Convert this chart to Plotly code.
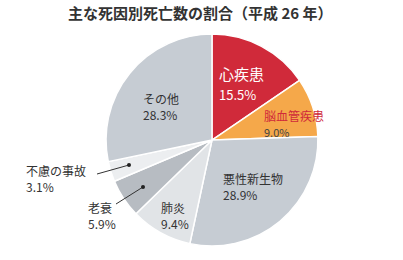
import plotly.graph_objects as go

categories = ["心疾患", "脳血管疾患", "悪性新生物", "肺炎", "老衰", "不慮の事故", "その他"]
values = [15.5, 9.0, 28.9, 9.4, 5.9, 3.1, 28.3]
colors = ["#d02a3a", "#f5a84a", "#c6ccd3", "#e1e4e7", "#b7bcc2", "#eceef0", "#c6ccd3"]
title_text = "主な死因別死亡数の割合（平成 26 年）"

FONT = "Noto Sans CJK JP"

fig = go.Figure()
fig.add_trace(go.Pie(
    labels=categories, values=values, sort=False, direction="clockwise", rotation=0,
    marker=dict(colors=colors, line=dict(color="white", width=1.5)),
    textinfo="none", hoverinfo="label+percent", showlegend=False,
    domain=dict(x=[0.263, 0.789], y=[0.054, 0.869]),
))

W, H = 403, 260
def px(x, y):
    return x / W, 1 - y / H

# label style: left x, center y of the two-line block, name colour/size, value colour/size
label_pos = {
    "心疾患": (217, 83, "white", 15, "white", 13),
    "脳血管疾患": (262, 123, "#d02a3a", 12, "#444", 11),
    "悪性新生物": (221, 186, "#333", 12, "#333", 12),
    "肺炎": (159, 215, "#333", 12, "#333", 12),
    "老衰": (86, 215, "#333", 12, "#333", 12),
    "不慮の事故": (24, 178, "#333", 12, "#333", 12),
    "その他": (141, 106, "#333", 12, "#333", 12),
}
anns = []
for cat, val in zip(categories, values):
    lx, yc, c1, s1, c2, s2 = label_pos[cat]
    x0, y0 = px(lx, yc)
    text = (f"<span style='color:{c1};font-size:{s1}px'>{cat}</span><br>"
            f"<span style='color:{c2};font-size:{s2}px'>{val:.1f}%</span>")
    anns.append(dict(x=x0, y=y0, xref="paper", yref="paper", text=text, showarrow=False,
                     xanchor="left", yanchor="middle", align="left",
                     font=dict(family=FONT, size=s1, color="#333")))

# leader lines with dots
leaders = [((97, 174), (129, 165)), ((116, 204), (143, 187))]
shapes = []
for (ax, ay), (bx, by) in leaders:
    x1, y1 = px(ax, ay)
    x2, y2 = px(bx, by)
    shapes.append(dict(type="line", xref="paper", yref="paper", x0=x1, y0=y1, x1=x2, y1=y2,
                       line=dict(color="#333", width=1)))
    r = 2 / W
    ry = 2 / H
    shapes.append(dict(type="circle", xref="paper", yref="paper", x0=x2 - r, x1=x2 + r,
                       y0=y2 - ry, y1=y2 + ry, fillcolor="#222", line=dict(width=0)))

fig.update_layout(
    width=W, height=H, margin=dict(l=0, r=0, t=0, b=0),
    paper_bgcolor="white", plot_bgcolor="white",
    title=dict(text=f"<b>{title_text}</b>", x=0.497, xanchor="center", y=1 - 14 / H, yanchor="middle",
               font=dict(family=FONT, size=15, color="#333")),
    annotations=anns, shapes=shapes,
)
fig.write_html("out.html")
